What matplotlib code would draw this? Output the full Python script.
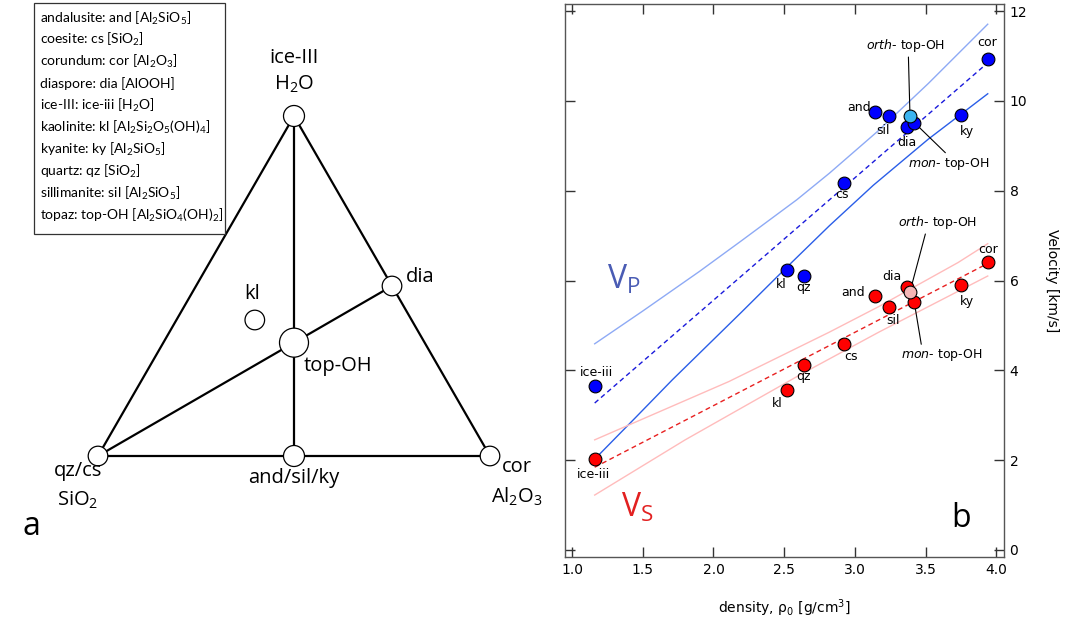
import matplotlib
matplotlib.use('Agg')
import matplotlib.pyplot as plt
from matplotlib.patches import Circle, Rectangle

plt.rcParams['font.family'] = ['DejaVu Sans']
plt.rcParams['mathtext.default'] = 'regular'
plt.rcParams['mathtext.fontset'] = 'dejavusans'

# ---------------- data: panel b ----------------
minerals = ['ice-iii', 'kl', 'qz', 'cs', 'and', 'sil', 'dia', 'ky', 'cor']
density = [1.16, 2.52, 2.64, 2.92, 3.14, 3.24, 3.37, 3.75, 3.94]
vp = [3.65, 6.24, 6.09, 8.18, 9.76, 9.67, 9.43, 9.69, 10.94]
vs = [2.02, 3.56, 4.12, 4.58, 5.66, 5.42, 5.85, 5.89, 6.42]

topoh_phases = ['orth', 'mon']
topoh_density = [3.39, 3.42]
topoh_vp = [9.67, 9.52]
topoh_vs = [5.75, 5.52]

fit_rho = [1.16, 3.94]
vp_fit = [3.27, 10.85]
vs_fit = [1.84, 6.38]

vp_upper_rho = [1.16, 1.50, 1.90, 2.20, 2.59, 2.82, 3.16, 3.52, 3.94]
vp_upper = [4.59, 5.32, 6.20, 6.89, 7.80, 8.39, 9.32, 10.39, 11.71]
vp_lower_rho = [1.16, 1.45, 1.71, 2.20, 2.52, 2.82, 3.13, 3.52, 3.94]
vp_lower = [2.02, 2.95, 3.79, 5.30, 6.30, 7.22, 8.12, 9.15, 10.16]
vs_upper_rho = [1.16, 2.11, 2.82, 3.17, 3.73, 3.94]
vs_upper = [2.45, 3.75, 4.85, 5.42, 6.40, 6.82]
vs_lower_rho = [1.16, 1.80, 2.63, 3.17, 3.94]
vs_lower = [1.22, 2.45, 3.93, 4.85, 6.10]

x_ticks = [1.0, 1.5, 2.0, 2.5, 3.0, 3.5, 4.0]
y_ticks = [0, 2, 4, 6, 8, 10, 12]

# ---------------- data: panel a ----------------
tri_phases = ['qz/cs', 'and/sil/ky', 'cor', 'dia', 'ice-III', 'top-OH', 'kl']
tri_SiO2 = [1, 1, 0, 0, 0, 1, 2]
tri_Al2O3 = [0, 1, 1, 1, 0, 1, 1]
tri_H2O = [0, 0, 0, 1, 1, 1, 2]
tie_lines = [('qz/cs', 'cor'), ('cor', 'ice-III'), ('ice-III', 'qz/cs'),
             ('qz/cs', 'dia'), ('ice-III', 'and/sil/ky')]
legend_lines = [
    'andalusite: and [Al$_2$SiO$_5$]',
    'coesite: cs [SiO$_2$]',
    'corundum: cor [Al$_2$O$_3$]',
    'diaspore: dia [AlOOH]',
    'ice-III: ice-iii [H$_2$O]',
    'kaolinite: kl [Al$_2$Si$_2$O$_5$(OH)$_4$]',
    'kyanite: ky [Al$_2$SiO$_5$]',
    'quartz: qz [SiO$_2$]',
    'sillimanite: sil [Al$_2$SiO$_5$]',
    'topaz: top-OH [Al$_2$SiO$_4$(OH)$_2$]',
]

W, H = 1070, 619
fig = plt.figure(figsize=(W / 100, H / 100), dpi=100)

# ================= panel a (pixel-scaled axes) =================
sans = ['Open Sans', 'DejaVu Sans']
leg_font = ['Lato', 'Open Sans', 'DejaVu Sans']
axL = fig.add_axes([0, 0, 560 / W, 1])
axL.set_xlim(0, 560)
axL.set_ylim(H, 0)
axL.axis('off')

V_si = (98.0, 456.0)
V_al = (490.0, 456.0)
V_h2o = (294.0, 116.0)

pos = {}
for name, a, b, c in zip(tri_phases, tri_SiO2, tri_Al2O3, tri_H2O):
    t = a + b + c
    fa, fb, fc = a / t, b / t, c / t
    pos[name] = (fa * V_si[0] + fb * V_al[0] + fc * V_h2o[0],
                 fa * V_si[1] + fb * V_al[1] + fc * V_h2o[1])

for p1, p2 in tie_lines:
    axL.plot([pos[p1][0], pos[p2][0]], [pos[p1][1], pos[p2][1]],
             color='black', lw=1.6, zorder=1, solid_capstyle='round')

radii = {'top-OH': 14.5, 'ice-III': 10.5, 'and/sil/ky': 10.5}
for name in tri_phases:
    axL.add_patch(Circle(pos[name], radii.get(name, 9.8), facecolor='white',
                         edgecolor='black', lw=0.9, zorder=3))

tfs = 14.5
axL.text(294, 58, 'ice-III', family=sans, fontsize=tfs, ha='center', va='center')
axL.text(294, 84, 'H$_2$O', family=sans, fontsize=tfs, ha='center', va='center')
axL.text(406, 277, 'dia', family=sans, fontsize=tfs, ha='left', va='center')
axL.text(252, 294, 'kl', family=sans, fontsize=tfs, ha='center', va='center')
axL.text(304, 366, 'top-OH', family=sans, fontsize=tfs, ha='left', va='center')
axL.text(78, 471, 'qz/cs', family=sans, fontsize=tfs, ha='center', va='center')
axL.text(78, 500, 'SiO$_2$', family=sans, fontsize=tfs, ha='center', va='center')
axL.text(294, 478, 'and/sil/ky', family=sans, fontsize=tfs, ha='center', va='center')
axL.text(517, 467, 'cor', family=sans, fontsize=tfs, ha='center', va='center')
axL.text(517, 497, 'Al$_2$O$_3$', family=sans, fontsize=tfs, ha='center', va='center')
axL.text(22, 535, 'a', family=sans, fontsize=23, ha='left', va='baseline')

# legend box
axL.add_patch(Rectangle((34, 3), 191, 231, facecolor='white', edgecolor='#333333',
                        lw=0.9, zorder=4))
for i, line in enumerate(legend_lines):
    axL.text(40, 18 + i * 21.9, line, family=leg_font, fontsize=10,
             ha='left', va='center', zorder=5)

# ================= panel b =================
ax = fig.add_axes([565 / W, 1 - 557 / H, (1004 - 565) / W, (557 - 4) / H])
ax.set_xlim(0.95, 4.055)
ax.set_ylim(-0.16, 12.16)

# bands and fits
ax.plot(vp_upper_rho, vp_upper, color='#8eaaf5', lw=1.0, zorder=1)
ax.plot(vp_lower_rho, vp_lower, color='#2a5ee8', lw=1.0, zorder=1)
ax.plot(fit_rho, vp_fit, color='#1a1adb', lw=1.0, ls=(0, (3.5, 2.5)), zorder=1)
ax.plot(vs_upper_rho, vs_upper, color='#ffbcbc', lw=1.0, zorder=1)
ax.plot(vs_lower_rho, vs_lower, color='#ffbcbc', lw=1.0, zorder=1)
ax.plot(fit_rho, vs_fit, color='#e82020', lw=1.0, ls=(0, (3.5, 2.5)), zorder=1)

ms = 9.2
ax.plot(density, vp, 'o', ms=ms, mfc='#0000ff', mec='black', mew=0.8, zorder=4)
ax.plot(density, vs, 'o', ms=ms, mfc='#ff0000', mec='black', mew=0.8, zorder=4)
# mon then orth on top
ax.plot(topoh_density[1], topoh_vp[1], 'o', ms=ms, mfc='#0000ff', mec='black', mew=0.8, zorder=5)
ax.plot(topoh_density[1], topoh_vs[1], 'o', ms=ms, mfc='#ff0000', mec='black', mew=0.8, zorder=5)
ax.plot(topoh_density[0], topoh_vp[0], 'o', ms=ms, mfc='#3cb4f0', mec='black', mew=0.8, zorder=6)
ax.plot(topoh_density[0], topoh_vs[0], 'o', ms=ms, mfc='#f4b6b6', mec='black', mew=0.8, zorder=6)

# point labels: offsets in pixels (dx, dy up)
vp_off = {'ice-iii': (2, 13), 'kl': (-6, -15), 'qz': (0, -11), 'cs': (-2, -12),
          'and': (-16, 4), 'sil': (-6, -15), 'dia': (0, -16), 'ky': (6, -17),
          'cor': (-1, 16)}
vs_off = {'ice-iii': (-1, -15), 'kl': (-10, -13), 'qz': (0, -12), 'cs': (7, -12),
          'and': (-22, 3), 'sil': (4, -14), 'dia': (-15, 11), 'ky': (6, -16),
          'cor': (0, 12)}
lfs = 9
for name, x, yp, ys in zip(minerals, density, vp, vs):
    dx, dy = vp_off[name]
    ax.annotate(name, (x, yp), xytext=(dx * 0.72, dy * 0.72), textcoords='offset points',
                ha='center', va='center', fontsize=lfs, zorder=7)
    dx, dy = vs_off[name]
    ax.annotate(name, (x, ys), xytext=(dx * 0.72, dy * 0.72), textcoords='offset points',
                ha='center', va='center', fontsize=lfs, zorder=7)

# top-OH callouts
call = [
    (topoh_density[0], topoh_vp[0], (-4, 70), (0.53, 0)),
    (topoh_density[1], topoh_vp[1], (34, -41), (0.5, 1)),
    (topoh_density[0], topoh_vs[0], (28, 69), (0.35, 0)),
    (topoh_density[1], topoh_vs[1], (27, -53), (0.26, 1)),
]
for (x, y, (dx, dy), rp), ph in zip(call, ['orth', 'mon', 'orth', 'mon']):
    ax.annotate(r'$\mathit{%s}$- top-OH' % ph, (x, y), xytext=(dx * 0.72, dy * 0.72),
                textcoords='offset points', ha='center', va='center', fontsize=lfs,
                zorder=3,
                arrowprops=dict(arrowstyle='-', color='black', lw=0.8,
                                shrinkA=0, shrinkB=0, relpos=rp))

# axes styling
ax.set_xticks(x_ticks)
ax.set_xticklabels(['%.1f' % v for v in x_ticks])
ax.set_yticks(y_ticks)
ax.yaxis.tick_right()
ax.tick_params(axis='both', which='both', direction='in', length=7, width=1,
               color='#333333', top=True, bottom=True, left=True, right=True,
               labelleft=False, labelright=True, labelsize=10, pad=4)
for sp in ax.spines.values():
    sp.set_color('#555555')
    sp.set_linewidth(1.0)

ax.set_xlabel(r'density, ρ$_0$ [g/cm$^3$]', fontsize=10)
ax.xaxis.set_label_coords(0.5, -0.073)
ax.yaxis.set_label_position('right')
ax.set_ylabel('Velocity [km/s]', fontsize=10, rotation=270, va='center', ha='center')
ax.yaxis.set_label_coords(1.109, 0.5)

fig.text(607 / W, 1 - 289 / H, 'V$_P$', family=sans, fontsize=23, color='#4a5cb4',
         ha='left', va='baseline')
fig.text(621 / W, 1 - 517 / H, 'V$_S$', family=sans, fontsize=23, color='#e22020',
         ha='left', va='baseline')
fig.text(951 / W, 1 - 527 / H, 'b', family=sans, fontsize=23, ha='left', va='baseline')

fig.savefig('out.png', dpi=100)
